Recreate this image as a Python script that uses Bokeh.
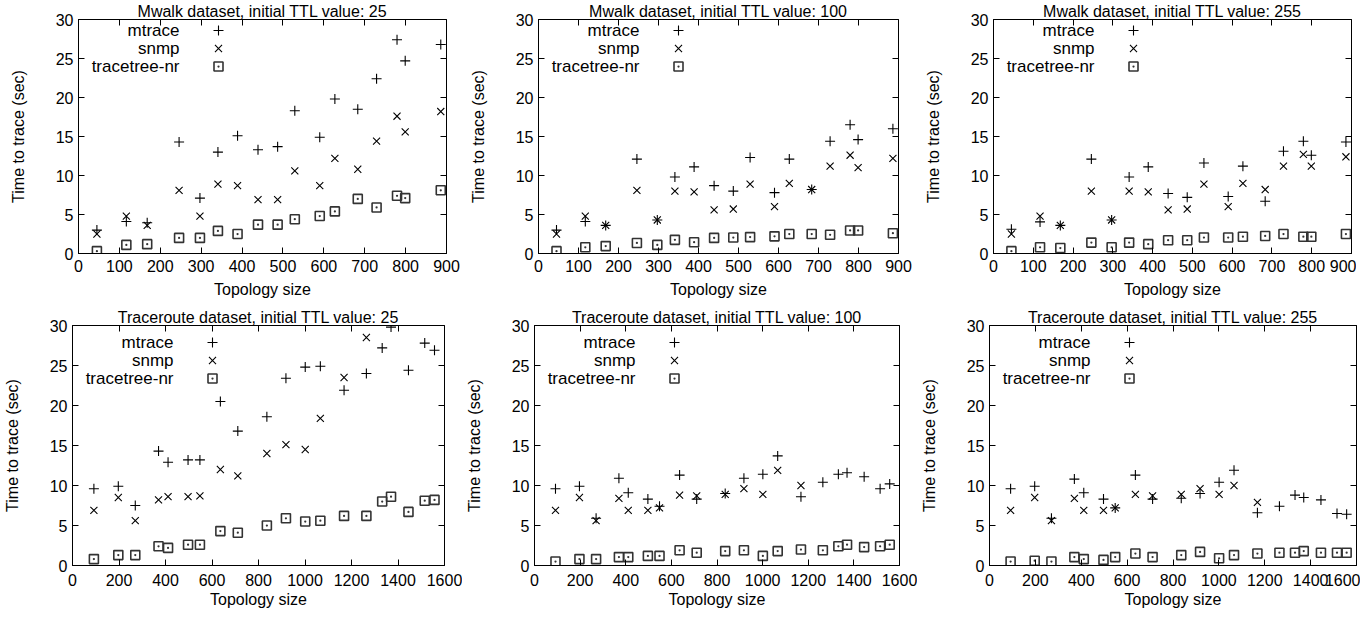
import math
from bokeh.plotting import figure
from bokeh.layouts import column, row
from bokeh.models import Range1d, FixedTicker, LinearAxis, Label
from bokeh.embed import file_html
from bokeh.resources import INLINE

NAN = float("nan")

# ---------------- data ----------------
series_names = ["mtrace", "snmp", "tracetree-nr"]

mwalk_sizes = [45, 117, 168, 246, 297, 341, 389, 439, 487, 529, 590, 627, 683, 729, 779, 799, 886]
traceroute_sizes = [92, 197, 270, 370, 411, 497, 548, 636, 711, 836, 918, 1001, 1066, 1168, 1264,
                    1332, 1370, 1445, 1515, 1557]

mw25_mtrace = [3.0, 4.1, 3.95, 14.3, 7.1, 13.0, 15.1, 13.3, 13.7, 18.3, 14.9, 19.8, 18.5, 22.4, 27.4, 24.7, 26.8]
mw25_snmp = [2.5, 4.8, 3.6, 8.1, 4.8, 8.9, 8.7, 6.9, 6.9, 10.6, 8.7, 12.2, 10.8, 14.4, 17.6, 15.6, 18.2]
mw25_tracetree = [0.3, 1.1, 1.2, 2.0, 2.0, 2.9, 2.5, 3.7, 3.7, 4.4, 4.8, 5.4, 7.0, 5.9, 7.4, 7.1, 8.1]

mw100_mtrace = [3.0, 4.1, 3.6, 12.1, 4.3, 9.8, 11.1, 8.7, 8.0, 12.3, 7.8, 12.1, 8.2, 14.4, 16.5, 14.6, 16.0]
mw100_snmp = [2.5, 4.8, 3.6, 8.1, 4.3, 8.0, 7.9, 5.6, 5.7, 8.9, 6.0, 9.0, 8.2, 11.2, 12.6, 11.0, 12.2]
mw100_tracetree = [0.3, 0.8, 0.95, 1.35, 1.1, 1.75, 1.45, 2.0, 2.05, 2.1, 2.2, 2.5, 2.5, 2.4, 2.95, 2.95, 2.6]

mw255_mtrace = [3.1, 4.05, 3.6, 12.1, 4.3, 9.8, 11.1, 7.7, 7.2, 11.6, 7.3, 11.2, 6.7, 13.1, 14.4, 12.6, 14.3]
mw255_snmp = [2.5, 4.8, 3.6, 8.0, 4.3, 8.0, 7.9, 5.6, 5.7, 8.9, 6.0, 9.0, 8.2, 11.2, 12.7, 11.2, 12.4]
mw255_tracetree = [0.3, 0.8, 0.7, 1.4, 0.8, 1.4, 1.2, 1.7, 1.7, 2.05, 2.05, 2.15, 2.25, 2.5, 2.15, 2.15, 2.5]

tr25_mtrace = [9.6, 9.9, 7.5, 14.3, 12.9, 13.2, 13.2, 20.5, 16.8, 18.6, 23.4, 24.8, 24.9, 21.9, 24.0,
               27.2, 29.8, 24.4, 27.8, 26.9]
tr25_snmp = [6.9, 8.5, 5.6, 8.2, 8.6, 8.6, 8.7, 12.0, 11.2, 14.0, 15.1, 14.5, 18.4, 23.5, 28.5,
             NAN, NAN, NAN, NAN, NAN]
tr25_tracetree = [0.8, 1.3, 1.3, 2.4, 2.2, 2.6, 2.6, 4.3, 4.1, 5.0, 5.9, 5.5, 5.6, 6.2, 6.2,
                  8.0, 8.6, 6.7, 8.1, 8.2]

tr100_mtrace = [9.6, 9.9, 5.9, 10.9, 9.1, 8.3, 7.4, 11.3, 8.3, 9.0, 10.9, 11.4, 13.7, 8.6, 10.4,
                11.4, 11.6, 11.1, 9.6, 10.2]
tr100_snmp = [6.9, 8.5, 5.6, 8.4, 6.9, 6.9, 7.2, 8.8, 8.7, 8.9, 9.6, 8.9, 11.9, 10.0,
              NAN, NAN, NAN, NAN, NAN, NAN]
tr100_tracetree = [0.5, 0.8, 0.8, 1.05, 1.05, 1.2, 1.2, 1.9, 1.6, 1.8, 1.9, 1.2, 1.8, 2.0, 1.9,
                   2.4, 2.6, 2.3, 2.4, 2.6]

tr255_mtrace = [9.6, 9.9, 5.9, 10.8, 9.1, 8.3, 7.2, 11.3, 8.3, 8.4, 9.0, 10.4, 11.9, 6.6, 7.4,
                8.8, 8.5, 8.2, 6.5, 6.4]
tr255_snmp = [6.9, 8.5, 5.6, 8.4, 6.9, 6.9, 7.2, 8.9, 8.7, 8.9, 9.6, 8.9, 10.0, 7.9,
              NAN, NAN, NAN, NAN, NAN, NAN]
tr255_tracetree = [0.5, 0.6, 0.5, 1.05, 0.8, 0.7, 1.05, 1.5, 1.05, 1.3, 1.7, 0.9, 1.3, 1.5, 1.6,
                   1.6, 1.8, 1.6, 1.6, 1.6]

y_ticks = [0, 5, 10, 15, 20, 25, 30]
mwalk_x_ticks = [0, 100, 200, 300, 400, 500, 600, 700, 800, 900]
traceroute_x_ticks = [0, 200, 400, 600, 800, 1000, 1200, 1400, 1600]

# ---------------- styling ----------------
FONT = "Liberation Sans"
FS = "16px"       # title, axis labels, tick labels
KEY_FS = "17px"   # key text


def make_panel(title, sizes, mtrace, snmp, tracetree, xticks, fw, fh, bl, br, bb,
               tick_standoff, xlabel_standoff, key_top):
    xmax = xticks[-1]
    ymax = y_ticks[-1]
    p = figure(frame_width=fw, frame_height=fh,
               min_border_left=bl, min_border_right=br, min_border_top=0, min_border_bottom=bb,
               x_range=Range1d(0, xmax), y_range=Range1d(0, ymax),
               output_backend="svg", toolbar_location=None, title=title)
    p.title.text_font = FONT
    p.title.text_font_size = FS
    p.title.text_font_style = "normal"
    p.title.text_color = "black"
    p.title.align = "center"
    p.title.standoff = 0
    p.background_fill_color = "white"
    p.border_fill_color = "white"
    p.outline_line_color = "black"
    p.outline_line_width = 1
    p.xgrid.visible = False
    p.ygrid.visible = False

    for ax, ticks in ((p.xaxis[0], xticks), (p.yaxis[0], y_ticks)):
        ax.ticker = FixedTicker(ticks=ticks)
        ax.major_tick_in = 6
        ax.major_tick_out = 0
        ax.minor_tick_line_color = None
        ax.axis_line_color = "black"
        ax.major_tick_line_color = "black"
        ax.major_label_text_font = FONT
        ax.major_label_text_font_size = FS
        ax.major_label_text_color = "black"
        ax.axis_label_text_font = FONT
        ax.axis_label_text_font_size = FS
        ax.axis_label_text_font_style = "normal"
        ax.axis_label_text_color = "black"
    p.xaxis[0].axis_label = "Topology size"
    p.xaxis[0].major_label_standoff = tick_standoff
    p.xaxis[0].axis_label_standoff = xlabel_standoff
    p.yaxis[0].axis_label = "Time to trace (sec)"
    p.yaxis[0].major_label_standoff = 5
    p.yaxis[0].axis_label_standoff = 26

    # mirrored ticks on top and right
    for loc, ticks in (("above", xticks), ("right", y_ticks)):
        ax = LinearAxis(ticker=FixedTicker(ticks=ticks),
                        major_label_overrides={t: "" for t in ticks},
                        major_label_text_font_size="0px",
                        major_tick_in=6, major_tick_out=0, major_label_standoff=0,
                        minor_tick_line_color=None, axis_line_color=None,
                        major_tick_line_color="black")
        p.add_layout(ax, loc)

    p.scatter(sizes, mtrace, marker="cross", size=10, line_color="black", line_width=1.1)
    p.scatter(sizes, snmp, marker="x", size=10, line_color="black", line_width=1.1)
    p.scatter(sizes, tracetree, marker="square_dot", size=9, line_color="#333333",
              fill_color=None, line_width=1.6)

    # gnuplot-style key: right-aligned text, sample symbol to its right
    px_x = xmax / fw
    px_y = ymax / fh
    markers = [("cross", 10, "black", 1.1), ("x", 10, "black", 1.1), ("square_dot", 9, "#333333", 1.6)]
    for i, name in enumerate(series_names):
        yk = ymax - (key_top + 18 * i) * px_y
        p.add_layout(Label(x=101 * px_x, y=yk, text=name, text_align="right",
                           text_baseline="middle", text_font=FONT, text_font_size=KEY_FS,
                           text_color="black"))
        m, s, c, lw = markers[i]
        p.scatter([140 * px_x], [yk], marker=m, size=s, line_color=c, fill_color=None, line_width=lw)
    return p


top_h, bot_h = 234, 240
top_cols = [(78, 368, 20), (70, 360, 23), (68, 358, 5)]
bot_cols = [(70, 372, 18), (68, 365, 18), (68, 367, 4)]

top_specs = [
    ("Mwalk dataset, initial TTL value: 25", mw25_mtrace, mw25_snmp, mw25_tracetree),
    ("Mwalk dataset, initial TTL value: 100", mw100_mtrace, mw100_snmp, mw100_tracetree),
    ("Mwalk dataset, initial TTL value: 255", mw255_mtrace, mw255_snmp, mw255_tracetree),
]
bot_specs = [
    ("Traceroute dataset, initial TTL value: 25", tr25_mtrace, tr25_snmp, tr25_tracetree),
    ("Traceroute dataset, initial TTL value: 100", tr100_mtrace, tr100_snmp, tr100_tracetree),
    ("Traceroute dataset, initial TTL value: 255", tr255_mtrace, tr255_snmp, tr255_tracetree),
]

top_row = []
for (t, a, b, c), (bl, fw, br) in zip(top_specs, top_cols):
    top_row.append(make_panel(t, mwalk_sizes, a, b, c, mwalk_x_ticks, fw, top_h, bl, br, 53, 6, 6, 11))
bot_row = []
for (t, a, b, c), (bl, fw, br) in zip(bot_specs, bot_cols):
    bot_row.append(make_panel(t, traceroute_sizes, a, b, c, traceroute_x_ticks, fw, bot_h, bl, br, 30, 8, 2, 17))

layout = column(row(*top_row), row(*bot_row))
open("out.html", "w").write(file_html(layout, INLINE))
